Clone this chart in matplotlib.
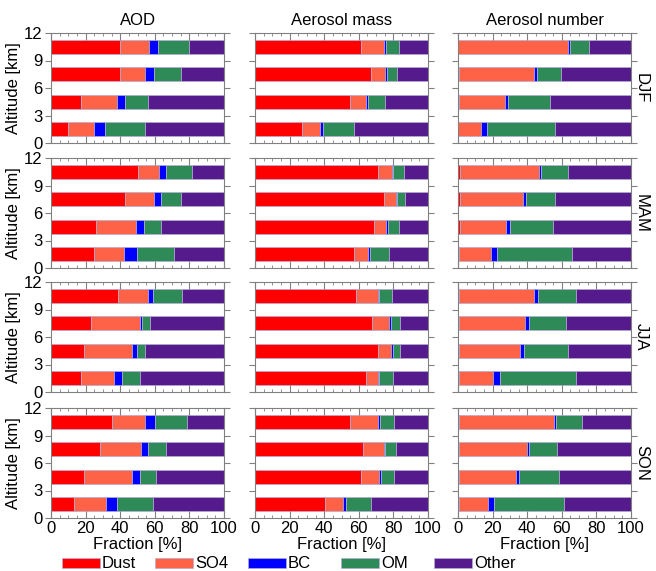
import numpy as np
import matplotlib.pyplot as plt
from matplotlib.patches import Rectangle
from matplotlib.ticker import MultipleLocator

plt.rcParams['font.family'] = ['Liberation Sans', 'DejaVu Sans']
plt.rcParams['font.size'] = 11

seasons = ['DJF', 'MAM', 'JJA', 'SON']
quantities = ['AOD', 'Aerosol mass', 'Aerosol number']
species = ['Dust', 'SO4', 'BC', 'OM', 'Other']
colors = ['#ff0000', '#ff6347', '#0000ff', '#2e8b57', '#551a8b']
altitudes = [1.5, 4.5, 7.5, 10.5]

# fractions [%] per altitude level (1.5, 4.5, 7.5, 10.5 km): Dust, SO4, BC, OM, Other
djf_aod = [[9.7, 15.2, 6.5, 22.9, 45.7],
           [17.6, 20.8, 4.6, 13.3, 43.7],
           [40.1, 14.2, 5.4, 15.2, 25.1],
           [39.9, 16.9, 4.8, 17.9, 20.5]]
djf_mass = [[27.1, 10.4, 2.0, 17.9, 42.6],
            [55.2, 9.0, 1.2, 9.9, 24.7],
            [66.8, 8.5, 1.2, 5.8, 17.7],
            [61.5, 13.3, 1.0, 7.5, 16.7]]
djf_num = [[0.2, 12.9, 3.4, 39.3, 44.2],
           [0.3, 26.9, 1.9, 24.1, 46.8],
           [0.3, 43.9, 1.2, 14.3, 40.3],
           [0.0, 63.3, 1.5, 11.2, 24.0]]

mam_aod = [[25.1, 17.2, 7.2, 21.8, 28.7],
           [25.8, 23.5, 4.6, 9.9, 36.2],
           [42.5, 17.2, 4.1, 11.1, 25.1],
           [50.0, 12.6, 3.6, 15.4, 18.4]]
mam_mass = [[57.4, 7.7, 1.5, 11.1, 22.3],
            [69.0, 7.0, 1.0, 6.1, 16.9],
            [74.8, 6.8, 0.7, 4.6, 13.1],
            [70.9, 8.3, 0.7, 6.1, 14.0]]
mam_num = [[0.5, 18.4, 3.7, 43.4, 34.0],
           [1.0, 26.9, 2.2, 25.0, 44.9],
           [1.0, 36.6, 1.5, 17.0, 43.9],
           [1.0, 46.1, 1.0, 15.5, 36.4]]

jja_aod = [[17.6, 18.6, 4.6, 10.9, 48.3],
           [18.8, 28.3, 2.7, 4.8, 45.4],
           [22.9, 28.3, 1.5, 4.5, 42.8],
           [38.9, 16.9, 3.4, 16.6, 24.2]]
jja_mass = [[64.2, 6.7, 1.0, 8.0, 20.1],
            [70.9, 8.0, 0.8, 4.3, 16.0],
            [67.6, 10.1, 1.0, 5.3, 16.0],
            [58.1, 12.8, 1.0, 7.5, 20.6]]
jja_num = [[0.7, 19.4, 3.9, 44.4, 31.6],
           [0.7, 35.2, 2.2, 25.5, 36.4],
           [0.7, 38.1, 2.0, 21.6, 37.6],
           [0.7, 43.5, 1.9, 22.1, 31.8]]

son_aod = [[13.5, 18.4, 6.5, 20.5, 41.1],
           [19.1, 27.8, 4.3, 9.4, 39.4],
           [28.3, 23.6, 3.9, 10.4, 33.8],
           [35.5, 19.1, 5.5, 18.4, 21.5]]
son_mass = [[40.2, 10.6, 1.7, 14.8, 32.7],
            [61.3, 10.6, 1.2, 7.3, 19.6],
            [62.7, 11.6, 1.0, 6.3, 18.4],
            [55.2, 15.7, 1.3, 7.9, 19.9]]
son_num = [[0.3, 16.9, 3.7, 40.5, 38.6],
           [0.5, 32.8, 1.9, 23.1, 41.7],
           [0.5, 39.5, 1.3, 16.2, 42.5],
           [0.3, 55.3, 1.2, 15.0, 28.2]]

data = [[djf_aod, djf_mass, djf_num],
        [mam_aod, mam_mass, mam_num],
        [jja_aod, jja_mass, jja_num],
        [son_aod, son_mass, son_num]]

fig = plt.figure(figsize=(6.56, 5.71), dpi=100)

W, H = 656, 571
col_left = [51, 255, 458]
col_w = 173
row_top = [33, 158, 282, 408]
row_h = 110
spine_col = '#808080'

for i in range(4):
    for j in range(3):
        ax = fig.add_axes([col_left[j] / W, 1 - (row_top[i] + row_h) / H,
                           col_w / W, row_h / H])
        vals = np.array(data[i][j])
        left = np.zeros(len(altitudes))
        for k in range(len(species)):
            ax.barh(altitudes, vals[:, k], height=1.5, left=left,
                    color=colors[k], edgecolor='#b4acd4', linewidth=0.5)
            left += vals[:, k]
        ax.set_xlim(0, 100)
        ax.set_ylim(0, 12)
        ax.set_yticks([0, 3, 6, 9, 12])
        ax.xaxis.set_major_locator(MultipleLocator(20))
        ax.xaxis.set_minor_locator(MultipleLocator(5))
        ax.tick_params(axis='x', which='both', direction='in', top=True,
                       bottom=True, color=spine_col)
        ax.tick_params(axis='x', which='major', length=5)
        ax.tick_params(axis='x', which='minor', length=2.5)
        ax.tick_params(axis='y', direction='out', left=True, right=True,
                       length=4, color=spine_col)
        ax.tick_params(labelsize=12, pad=2)
        for s in ax.spines.values():
            s.set_color(spine_col)
        if j == 0:
            ax.set_ylabel('Altitude [km]', fontsize=12, labelpad=2)
        else:
            ax.set_yticklabels([])
        if i == 3:
            ax.set_xlabel('Fraction [%]', fontsize=12, labelpad=1)
        else:
            ax.set_xticklabels([])
        if i == 0:
            ax.set_title(quantities[j], fontsize=12, pad=6)
        if j == 2:
            ax.text(1.06, 0.5, seasons[i], transform=ax.transAxes,
                    rotation=-90, va='center', ha='center', fontsize=12)

# legend row at the bottom
for k, name in enumerate(species):
    x0 = 62 + 93 * k
    fig.patches.append(Rectangle((x0 / W, 1 - 568 / H), 38 / W, 10 / H,
                                 transform=fig.transFigure, facecolor=colors[k],
                                 edgecolor='#b4acd4', linewidth=0.5))
    fig.text((x0 + 40) / W, 1 - 563 / H, name, fontsize=12, va='center', ha='left')

fig.savefig('out.png', dpi=100)
